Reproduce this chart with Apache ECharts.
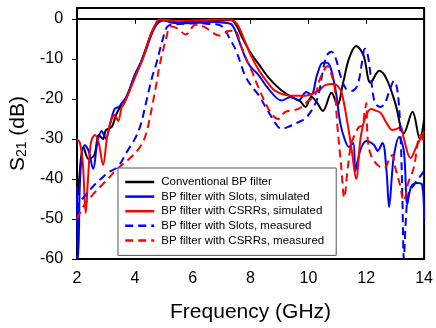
<!DOCTYPE html>
<html>
<head>
<meta charset="utf-8">
<script src="https://cdn.jsdelivr.net/npm/echarts@6/dist/echarts.min.js"></script>
<style>
  html, body { margin: 0; padding: 0; background: #fff; }
  #chart { width: 436px; height: 328px; }
</style>
</head>
<body>
<div id="chart"></div>
<script>
    // S21 curves (GHz / dB)
    const convFreq = [2.0, 2.05, 2.12, 2.22, 2.4, 2.6, 2.75, 2.9, 3.0, 3.2, 3.35, 3.5, 3.6, 3.8, 4.0, 4.2, 4.4, 4.6, 4.8, 5.0, 5.3, 5.6, 6.0, 6.5, 7.0, 7.3, 7.5, 7.7, 8.0, 8.3, 8.6, 9.0, 9.4, 9.7, 9.9, 10.1, 10.3, 10.5, 10.8, 11.0, 11.2, 11.4, 11.65, 11.9, 12.15, 12.45, 12.7, 13.0, 13.3, 13.6, 13.85, 14.0];
    const convDb = [-38, -44, -36, -32, -35, -34, -29, -30, -27.8, -27, -24, -22, -21.5, -18, -14, -11, -7, -3, -1, -0.2, -0.5, -0.9, -0.6, -0.4, -0.4, -0.3, -1.5, -4.5, -8.5, -11.5, -14.5, -17.5, -19.5, -20.5, -22, -19.5, -21, -23, -18.5, -21.5, -16, -10, -6.8, -9, -16, -13, -15, -21, -28.6, -23.2, -30, -25];

    const slotSimFreq = [2.0, 2.03, 2.06, 2.12, 2.27, 2.4, 2.56, 2.7, 2.85, 3.0, 3.15, 3.3, 3.45, 3.55, 3.7, 3.85, 4.0, 4.2, 4.4, 4.6, 4.8, 5.0, 5.3, 5.7, 6.2, 6.7, 7.1, 7.36, 7.6, 7.82, 8.0, 8.27, 8.62, 9.07, 9.4, 9.65, 9.93, 10.1, 10.3, 10.5, 10.65, 10.9, 11.1, 11.25, 11.4, 11.55, 11.62, 11.7, 11.82, 12.0, 12.27, 12.39, 12.56, 12.7, 12.79, 12.9, 12.96, 13.13, 13.3, 13.42, 13.55, 13.75, 13.93, 14.0];
    const slotSimDb = [-42, -60, -55, -38, -31.5, -33, -37.5, -31, -28, -30, -26, -22.5, -22, -21, -19.5, -17, -14, -11, -7.5, -3.5, -1, -0.4, -1.0, -1.1, -1, -0.8, -1, -1.5, -5.5, -9.7, -12, -14, -17.5, -20.4, -19.5, -20.4, -18.3, -19, -14, -11, -11, -16.3, -26, -30, -32, -31, -38, -35.6, -32.3, -30.5, -31.5, -33, -31, -38, -47, -38, -34, -29.5, -33, -46.3, -42, -41, -41.4, -50];

    const csrrSimFreq = [2.0, 2.1, 2.2, 2.3, 2.38, 2.48, 2.62, 2.75, 2.9, 3.05, 3.2, 3.3, 3.42, 3.55, 3.7, 3.9, 4.1, 4.3, 4.5, 4.7, 4.85, 5.1, 5.5, 6.0, 6.5, 7.0, 7.35, 7.55, 7.8, 8.0, 8.3, 8.6, 8.85, 9.4, 9.87, 10.33, 10.6, 10.85, 11.0, 11.15, 11.35, 11.5, 11.65, 11.8, 11.95, 12.16, 12.35, 12.5, 12.7, 12.9, 13.05, 13.19, 13.3, 13.53, 13.76, 14.0];
    const csrrSimDb = [-30, -31, -36, -48.5, -40, -31, -29, -31, -36.5, -29, -25, -24, -25.5, -22, -20, -16.5, -13, -9.5, -5, -1.5, -0.2, -0.3, -0.6, -0.4, -0.3, -0.2, -0.3, -1.5, -5.5, -9, -13, -16, -18, -19.2, -19.2, -18, -16.5, -16.3, -16.7, -18.5, -26, -33, -40, -30, -25, -22.5, -23, -23.5, -26, -27.8, -27.5, -27, -30, -34.8, -31.5, -28.2];

    const slotMeasFreq = [2.0, 2.05, 2.3, 2.6, 2.9, 3.1, 3.42, 3.7, 4.0, 4.2, 4.4, 4.6, 4.75, 4.96, 5.13, 5.4, 5.8, 6.2, 6.6, 6.9, 7.1, 7.24, 7.5, 7.8, 8.0, 8.27, 8.6, 8.9, 9.07, 9.3, 9.6, 9.87, 10.1, 10.33, 10.5, 10.65, 10.8, 10.95, 11.1, 11.3, 11.5, 11.7, 11.85, 11.95, 12.05, 12.15, 12.3, 12.5, 12.65, 12.8, 12.96, 13.08, 13.18, 13.25, 13.3, 13.37, 13.45, 13.6, 13.8, 14.0];
    const slotMeasDb = [-48, -46.3, -44, -41.5, -39.5, -38.3, -36.9, -33.5, -30, -26.5, -20.5, -14.5, -11, -5.2, -1.9, -1.4, -1.2, -1.1, -1.3, -1.5, -2.5, -4.4, -8, -14, -16.5, -19, -23, -26.5, -27.5, -27, -26, -25, -23, -19.5, -13, -9, -8.2, -10, -14, -17.5, -18, -16.5, -11, -7.5, -9, -14, -21, -22, -21, -18, -15.5, -18, -28, -45, -60, -50, -44, -42, -40, -38];

    const csrrMeasFreq = [2.0, 2.27, 2.6, 3.0, 3.42, 3.8, 4.1, 4.3, 4.45, 4.62, 4.75, 4.85, 5.07, 5.24, 5.45, 5.76, 6.1, 6.4, 6.7, 6.9, 7.1, 7.3, 7.47, 7.65, 7.85, 8.04, 8.22, 8.5, 8.75, 8.96, 9.19, 9.65, 10.0, 10.22, 10.4, 10.56, 10.67, 10.8, 10.9, 11.0, 11.13, 11.24, 11.35, 11.47, 11.6, 11.75, 11.87, 11.95, 12.0, 12.05, 12.16, 12.39, 12.62, 12.8, 12.9, 13.0, 13.15, 13.3, 13.45, 13.64, 13.87, 14.0];
    const csrrMeasDb = [-50, -46.3, -43.5, -40.5, -37.3, -35, -32.8, -30.5, -27, -21, -16, -11.8, -5.2, -1.9, -2.3, -3.9, -1.5, -2, -3.5, -4.2, -3.5, -3, -3, -6.4, -10, -13, -16.3, -20.8, -24, -25, -23.3, -22.5, -20.5, -19.2, -15, -12.6, -11.8, -14, -16.7, -26.6, -36.5, -44.7, -38, -31.5, -29, -27, -26.6, -23, -21, -30, -34, -36.5, -37.3, -35, -34, -37, -41, -45.5, -41, -37.3, -29, -30.7];

    const yTicks = [-60, -50, -40, -30, -20, -10, 0];
    const seriesNames = [
        'Conventional BP filter',
        'BP filter with Slots, simulated',
        'BP filter with CSRRs, simulated',
        'BP filter with Slots, measured',
        'BP filter with CSRRs, measured'
    ];

    function zip(xs, ys) {
        return xs.map(function (x, i) { return [x, ys[i]]; });
    }

    const font = 'Liberation Sans, Arial, sans-serif';
    const myChart = echarts.init(document.getElementById('chart'));

    function line(name, data, color, dashed) {
        return {
            name: name,
            type: 'line',
            data: data,
            smooth: 0.35,
            symbol: 'none',
            clip: true,
            lineStyle: { color: color, width: 2, type: dashed ? [8, 5] : 'solid' },
            itemStyle: { color: color }
        };
    }

    let option = {
        animation: false,
        backgroundColor: '#fff',
        grid: {
            left: 77, right: 8, top: 8, bottom: 66,
            show: true, borderColor: '#000', borderWidth: 2
        },
        legend: {
            orient: 'vertical',
            left: 118, top: 168,
            padding: [8, 12, 9, 6],
            itemWidth: 29, itemHeight: 12, itemGap: 2.6,
            backgroundColor: '#fff',
            borderColor: '#555', borderWidth: 1,
            itemStyle: { opacity: 0 },
            lineStyle: { width: 2.5 },
            textStyle: { fontFamily: font, fontSize: 11.5, color: '#000', padding: [0, 0, 0, 2] },
            data: seriesNames
        },
        xAxis: {
            type: 'value',
            min: 2, max: 14, interval: 2,
            name: 'Frequency (GHz)',
            nameLocation: 'middle', nameGap: 43,
            nameTextStyle: { fontFamily: font, fontSize: 21, color: '#000' },
            axisLine: { lineStyle: { color: '#000', width: 2 } },
            axisTick: { length: 5, lineStyle: { color: '#000' } },
            axisLabel: { fontFamily: font, fontSize: 16, color: '#000', margin: 12 },
            splitLine: { show: false }
        },
        yAxis: {
            type: 'value',
            min: -60, max: 2.7, interval: 10,
            name: '{a|S}{b|21}{a| (dB)}',
            nameLocation: 'middle', nameGap: 40,
            nameTextStyle: {
                rich: {
                    a: { fontFamily: font, fontSize: 21, color: '#000' },
                    b: { fontFamily: font, fontSize: 14, color: '#000', verticalAlign: 'bottom', padding: [6, 0, 0, 0] }
                }
            },
            axisLine: { lineStyle: { color: '#000', width: 2 } },
            axisTick: { length: 5, customValues: yTicks, lineStyle: { color: '#000' } },
            axisLabel: { fontFamily: font, fontSize: 16, color: '#000', margin: 14, customValues: yTicks },
            splitLine: { show: false }
        },
        series: [
            line(seriesNames[0], zip(convFreq, convDb), '#000000', false),
            line(seriesNames[1], zip(slotSimFreq, slotSimDb), '#0000ff', false),
            line(seriesNames[2], zip(csrrSimFreq, csrrSimDb), '#ff0000', false),
            line(seriesNames[3], zip(slotMeasFreq, slotMeasDb), '#0000ff', true),
            line(seriesNames[4], zip(csrrMeasFreq, csrrMeasDb), '#ff0000', true)
        ]
    };
    myChart.setOption(option);
</script>
</body>
</html>
